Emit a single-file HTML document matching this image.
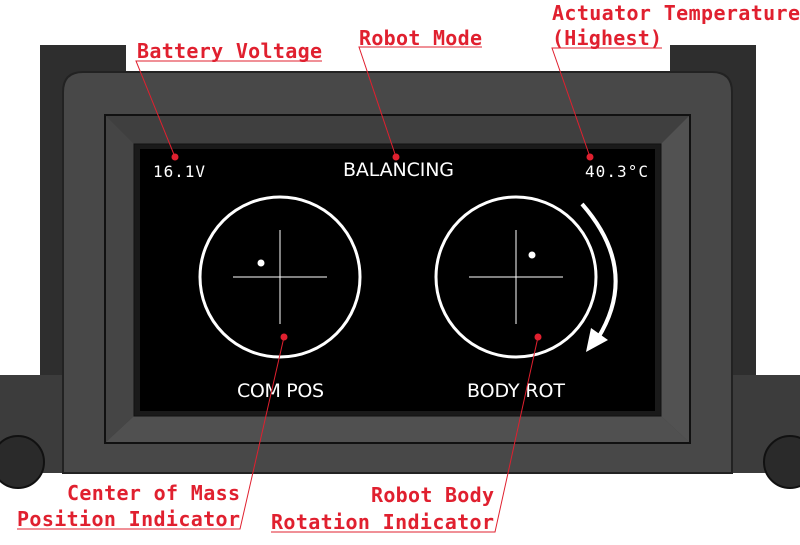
<!DOCTYPE html>
<html><head><style>
body{margin:0;width:800px;height:540px;overflow:hidden;background:#fff}
</style></head><body>
<svg width="800" height="540" xmlns="http://www.w3.org/2000/svg">
<rect width="800" height="540" fill="#fff"/>
<rect x="40" y="45" width="86" height="340" fill="#2e2e2e"/>
<rect x="670" y="45" width="86" height="340" fill="#2e2e2e"/>
<rect x="0" y="375" width="70" height="98" fill="#3c3c3c"/>
<rect x="730" y="375" width="70" height="98" fill="#3c3c3c"/>
<circle cx="18" cy="462" r="26" fill="#2a2a2a" stroke="#111" stroke-width="2"/>
<circle cx="790" cy="462" r="26" fill="#2a2a2a" stroke="#111" stroke-width="2"/>
<path d="M63 92 Q63 72 83 72 L712 72 Q732 72 732 92 L732 473 L63 473 Z" fill="#484848" stroke="#222" stroke-width="2"/>
<rect x="105" y="115" width="585" height="328" fill="#3a3a3a" stroke="#111" stroke-width="2"/>
<polygon points="106,116 689,116 660,145 135,145" fill="#3f3f3f"/>
<polygon points="106,442 689,442 660,415 135,415" fill="#505050"/>
<polygon points="106,116 135,145 135,415 106,442" fill="#454545"/>
<polygon points="689,116 660,145 660,415 689,442" fill="#525252"/>
<rect x="134" y="144" width="527" height="272" fill="#1a1a1a" stroke="#111"/>
<rect x="140" y="149" width="515" height="262" fill="#000"/>
<g fill="#fff" font-family="DejaVu Sans Mono, Liberation Mono, monospace" font-size="16">
<text x="153" y="177" textLength="52">16.1V</text>
<text x="585" y="177" textLength="63">40.3°C</text>
</g>
<g fill="#fff" font-family="DejaVu Sans, Liberation Sans, sans-serif" font-size="19">
<text x="343" y="176" textLength="111">BALANCING</text>
<text x="237" y="397" textLength="87">COM POS</text>
<text x="467" y="397" textLength="98">BODY ROT</text>
</g>
<g fill="none" stroke="#fff">
<circle cx="280" cy="277" r="80" stroke-width="3"/>
<circle cx="516" cy="277" r="80" stroke-width="3"/>
<line x1="233" y1="277" x2="327" y2="277"/><line x1="280" y1="230" x2="280" y2="324"/>
<line x1="469" y1="277" x2="563" y2="277"/><line x1="516" y1="230" x2="516" y2="324"/>
<path d="M582 204 Q640 270 598 338" stroke-width="4"/>
</g>
<polygon points="586,352 591,328 608,340" fill="#fff"/>
<circle cx="261" cy="263" r="3.5" fill="#fff"/>
<circle cx="532" cy="255" r="3.5" fill="#fff"/>
<g stroke="#e0202f" stroke-width="1" fill="none">
<path d="M322 61 L136 61 L175 157"/>
<path d="M482 47 L359 47 L396 157"/>
<path d="M662 48 L552 48 L590 157"/>
<path d="M17 529 L240 529 L284 337"/>
<path d="M271 532 L495 532 L538 337"/>
</g>
<g fill="#e0202f">
<circle cx="175" cy="157" r="3.5"/><circle cx="396" cy="157" r="3.5"/><circle cx="590" cy="157" r="3.5"/>
<circle cx="284" cy="337" r="3.5"/><circle cx="538" cy="337" r="3.5"/>
</g>
<g fill="#e0202f" font-family="DejaVu Sans Mono, Liberation Mono, monospace" font-weight="bold" font-size="20">
<text x="137" y="58" textLength="185">Battery Voltage</text>
<text x="359" y="45" textLength="123">Robot Mode</text>
<text x="552" y="20" textLength="248">Actuator Temperature</text>
<text x="552" y="45" textLength="110">(Highest)</text>
<text x="67" y="500" textLength="173">Center of Mass</text>
<text x="17" y="526" textLength="223">Position Indicator</text>
<text x="371" y="502" textLength="123">Robot Body</text>
<text x="271" y="529" textLength="223">Rotation Indicator</text>
</g>
</svg>
</body></html>
